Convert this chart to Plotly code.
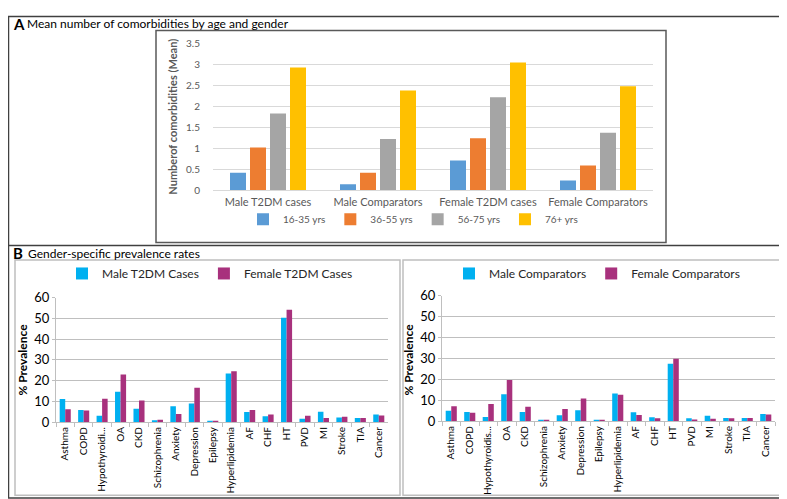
import plotly.graph_objects as go

W, H = 787, 499
FONT = "Lato"

# ---------------- Data ----------------
groups_a = ["Male T2DM cases", "Male Comparators", "Female T2DM cases", "Female Comparators"]
age_bands = ["16-35 yrs", "36-55 yrs", "56-75 yrs", "76+ yrs"]
age_16_35 = [0.42, 0.14, 0.71, 0.23]
age_36_55 = [1.02, 0.42, 1.24, 0.59]
age_56_75 = [1.83, 1.22, 2.22, 1.37]
age_76_plus = [2.93, 2.38, 3.05, 2.48]
age_colors = ["#5B9BD5", "#ED7D31", "#A5A5A5", "#FFC000"]

cond_left = ["Asthma", "COPD", "Hypothyroidi...", "OA", "CKD", "Schizophrenia", "Anxiety",
             "Depression", "Epilepsy", "Hyperlipidemia", "AF", "CHF", "HT", "PVD", "MI",
             "Stroke", "TIA", "Cancer"]
cond_right = ["Asthma", "COPD", "Hypothyroidis...", "OA", "CKD", "Schizophrenia", "Anxiety",
              "Depression", "Epilepsy", "Hyperlipidemia", "AF", "CHF", "HT", "PVD", "MI",
              "Stroke", "TIA", "Cancer"]
male_t2dm = [11.1, 5.8, 3.0, 14.6, 6.4, 0.9, 7.6, 8.9, 0.6, 23.4, 4.8, 2.8, 50.3, 1.6, 5.0, 2.2, 2.0, 3.7]
female_t2dm = [6.2, 5.6, 11.2, 22.9, 10.4, 1.1, 3.9, 16.5, 0.6, 24.5, 5.8, 3.7, 54.2, 3.0, 2.0, 2.5, 1.9, 3.1]
male_comp = [4.9, 4.3, 2.0, 12.9, 4.3, 0.5, 2.8, 5.2, 0.6, 13.2, 4.2, 1.8, 27.4, 1.4, 2.5, 1.5, 1.5, 3.4]
female_comp = [7.1, 4.0, 8.2, 19.7, 6.8, 0.5, 5.8, 10.8, 0.5, 12.6, 2.9, 1.4, 29.8, 0.8, 1.1, 1.4, 1.5, 3.1]
male_color = "#00B0F0"
female_color = "#A8317D"

# ---------------- Helpers ----------------
def px_x(x):
    return x / W

def px_y(y):
    return 1 - y / H

fig = go.Figure()

# Panel A bars
slot = 110.0
bw = 16 / slot
step = 20 / slot
start = -38 / slot
for i, (name, vals) in enumerate(zip(age_bands, [age_16_35, age_36_55, age_56_75, age_76_plus])):
    fig.add_trace(go.Bar(
        x=groups_a, y=vals, name=name, marker_color=age_colors[i],
        width=bw, offset=start + i * step, xaxis="x", yaxis="y", legend="legend",
        marker_line_width=0,
    ))

# Panel B left
fig.add_trace(go.Bar(x=cond_left, y=male_t2dm, name="Male T2DM Cases", marker_color=male_color,
                     width=0.3, offset=-0.3, xaxis="x2", yaxis="y2", legend="legend2",
                     marker_line_width=0))
fig.add_trace(go.Bar(x=cond_left, y=female_t2dm, name="Female T2DM Cases", marker_color=female_color,
                     width=0.3, offset=0.0, xaxis="x2", yaxis="y2", legend="legend2",
                     marker_line_width=0))
# Panel B right
fig.add_trace(go.Bar(x=cond_right, y=male_comp, name="Male Comparators", marker_color=male_color,
                     width=0.3, offset=-0.3, xaxis="x3", yaxis="y3", legend="legend3",
                     marker_line_width=0))
fig.add_trace(go.Bar(x=cond_right, y=female_comp, name="Female Comparators", marker_color=female_color,
                     width=0.3, offset=0.0, xaxis="x3", yaxis="y3", legend="legend3",
                     marker_line_width=0))

grey_txt = "#595959"

fig.update_layout(
    width=W, height=H,
    margin=dict(l=0, r=0, t=0, b=0),
    paper_bgcolor="white", plot_bgcolor="white",
    font=dict(family=FONT, color="#000000"),
    barmode="overlay",
    showlegend=True,
    xaxis=dict(domain=[px_x(205), px_x(645)], anchor="y", showgrid=False,
               showline=True, linecolor="#D9D9D9", ticks="",
               tickfont=dict(size=11, color=grey_txt), ticklabelstandoff=2,
               range=[-0.5, 3.5], fixedrange=True),
    yaxis=dict(domain=[px_y(180), px_y(28.5)], anchor="x", range=[0, 3.5], dtick=0.5,
               showgrid=True, gridcolor="#D9D9D9", zeroline=False, showline=False,
               tickfont=dict(size=10, color=grey_txt), ticks="", ticklabelstandoff=12),
    xaxis2=dict(domain=[px_x(48), px_x(380)], anchor="y2", showgrid=False,
                showline=True, linecolor="#BFBFBF", ticks="outside", tickson="boundaries",
                ticklen=4, tickcolor="#BFBFBF", tickangle=-90,
                tickfont=dict(size=10, color="#000000"), range=[-0.5, 17.5]),
    yaxis2=dict(domain=[px_y(419.5), px_y(291)], anchor="x2", range=[0, 60], dtick=10,
                showgrid=True, gridcolor="#BFBFBF", zeroline=False, showline=True,
                linecolor="#BFBFBF", ticks="outside", ticklen=3, tickcolor="#BFBFBF",
                tickfont=dict(size=13, color="#000000")),
    xaxis3=dict(domain=[px_x(434), px_x(767)], anchor="y3", showgrid=False,
                showline=True, linecolor="#BFBFBF", ticks="outside", tickson="boundaries",
                ticklen=4, tickcolor="#BFBFBF", tickangle=-90,
                tickfont=dict(size=10, color="#000000"), range=[-0.5, 17.5]),
    yaxis3=dict(domain=[px_y(418.5), px_y(289)], anchor="x3", range=[0, 60], dtick=10,
                showgrid=True, gridcolor="#BFBFBF", zeroline=False, showline=True,
                linecolor="#BFBFBF", ticks="outside", ticklen=3, tickcolor="#BFBFBF",
                tickfont=dict(size=13, color="#000000")),
    legend=dict(orientation="h", x=px_x(405), xanchor="center", y=px_y(210), yanchor="middle",
                font=dict(size=10, color=grey_txt), itemwidth=30, bgcolor="rgba(0,0,0,0)",
                traceorder="normal"),
    legend2=dict(orientation="h", x=px_x(202), xanchor="center", y=px_y(266), yanchor="middle",
                 font=dict(size=12, color="#262626"), itemwidth=30, bgcolor="rgba(0,0,0,0)"),
    legend3=dict(orientation="h", x=px_x(589), xanchor="center", y=px_y(266), yanchor="middle",
                 font=dict(size=12, color="#262626"), itemwidth=30, bgcolor="rgba(0,0,0,0)"),
)

shapes = [
    # outer frame
    dict(type="rect", xref="paper", yref="paper", x0=px_x(0.5), x1=px_x(786), y0=px_y(498), y1=px_y(0.5),
         line=dict(color="#404040", width=1.5)),
    # separator between A and B
    dict(type="line", xref="paper", yref="paper", x0=0, x1=1, y0=px_y(237), y1=px_y(237),
         line=dict(color="#404040", width=1.5)),
    # chart A box
    dict(type="rect", xref="paper", yref="paper", x0=px_x(148), x1=px_x(658), y0=px_y(234), y1=px_y(15),
         line=dict(color="#595959", width=1.5)),
    # chart B boxes
    dict(type="rect", xref="paper", yref="paper", x0=px_x(7), x1=px_x(392), y0=px_y(495), y1=px_y(252),
         line=dict(color="#BFBFBF", width=1.5)),
    dict(type="rect", xref="paper", yref="paper", x0=px_x(395), x1=px_x(779), y0=px_y(495), y1=px_y(252),
         line=dict(color="#BFBFBF", width=1.5)),
]
fig.update_layout(shapes=shapes)

annotations = [
    dict(text="<b>A</b>", x=px_x(3), y=px_y(8),
         xref="paper", yref="paper", xanchor="left", yanchor="middle", showarrow=False,
         font=dict(size=15, color="#000000")),
    dict(text="Mean number of comorbidities by age and gender", x=px_x(17), y=px_y(8),
         xref="paper", yref="paper", xanchor="left", yanchor="middle", showarrow=False,
         font=dict(size=12, color="#000000")),
    dict(text="<b>B</b>", x=px_x(3), y=px_y(245),
         xref="paper", yref="paper", xanchor="left", yanchor="middle", showarrow=False,
         font=dict(size=15, color="#000000")),
    dict(text="Gender-specific prevalence rates", x=px_x(18), y=px_y(245),
         xref="paper", yref="paper", xanchor="left", yanchor="middle", showarrow=False,
         font=dict(size=12, color="#000000")),
    dict(text="<b>Numberof comorbidities (Mean)</b>", x=px_x(165), y=px_y(104),
         xref="paper", yref="paper", xanchor="center", yanchor="middle", showarrow=False,
         textangle=-90, font=dict(size=11, color=grey_txt)),
    dict(text="<b>% Prevalence</b>", x=px_x(15), y=px_y(355),
         xref="paper", yref="paper", xanchor="center", yanchor="middle", showarrow=False,
         textangle=-90, font=dict(size=12, color="#000000")),
    dict(text="<b>% Prevalence</b>", x=px_x(401), y=px_y(355),
         xref="paper", yref="paper", xanchor="center", yanchor="middle", showarrow=False,
         textangle=-90, font=dict(size=12, color="#000000")),
]
fig.update_layout(annotations=annotations)

fig.write_html("out.html")
